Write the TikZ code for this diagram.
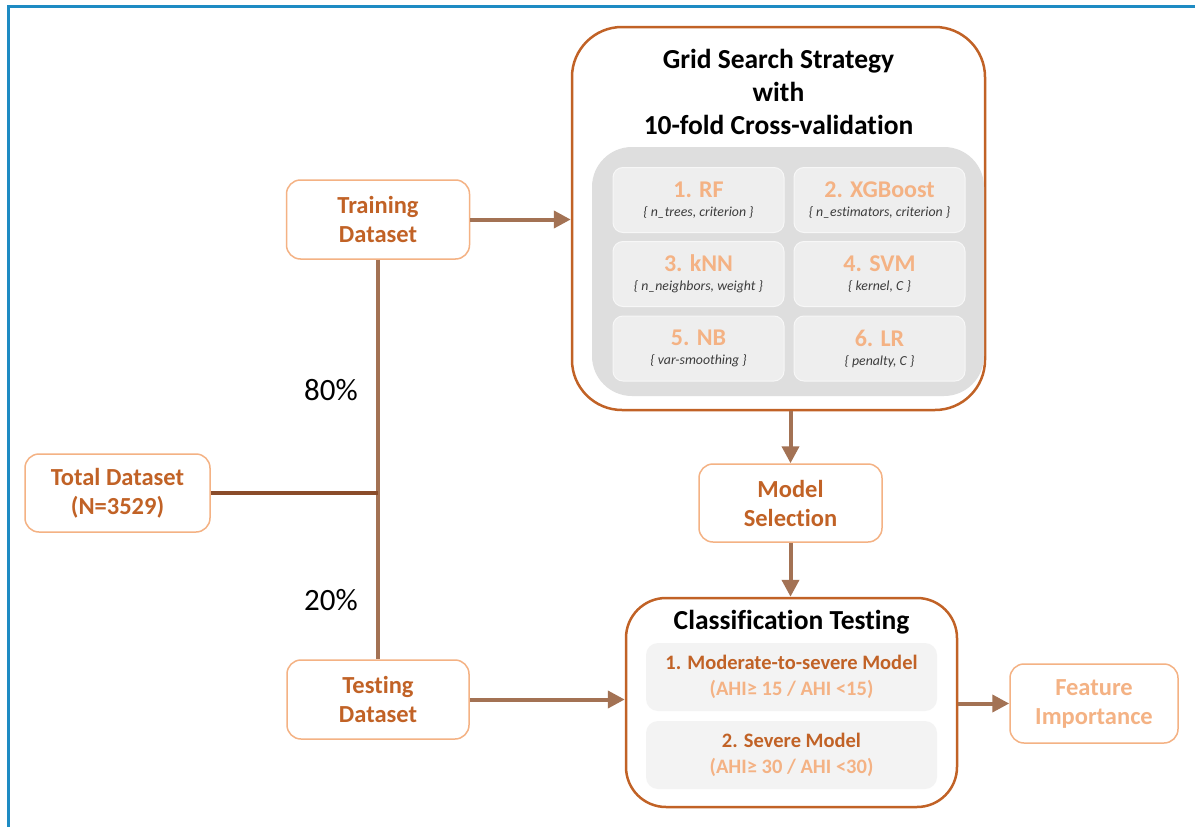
\documentclass[tikz,border=0pt]{standalone}
\usepackage{fontspec}
\setmainfont{Carlito}[Ligatures=NoCommon]
\usetikzlibrary{arrows.meta}
\definecolor{rust}{RGB}{193,98,38}
\definecolor{peach}{RGB}{244,178,132}
\definecolor{linkbrown}{RGB}{163,114,84}
\definecolor{stembrown}{RGB}{138,76,42}
\definecolor{frameblue}{RGB}{30,139,195}
\definecolor{panelgray}{RGB}{222,222,222}
\definecolor{cellgray}{RGB}{238,238,238}
\definecolor{rowgray}{RGB}{243,243,243}
\definecolor{subtext}{RGB}{60,60,60}

\newcommand{\celltext}[2]{{\fontsize{24}{24}\selectfont\bfseries #1}\\[7pt]{\fontsize{13.8}{15}\selectfont\itshape\color{subtext}\{ #2 \}}}

\begin{document}
\begin{tikzpicture}[x=1pt,y=-1pt,
  databox/.style={draw=peach, line width=1.5pt, rounded corners=14pt, fill=white,
    minimum width=183pt, minimum height=79pt, align=center, inner sep=0pt,
    font=\fontsize{24.5}{29}\selectfont\bfseries, text=rust},
  bigbox/.style={draw=rust, line width=2.5pt, fill=white, inner sep=0pt},
  cell/.style={draw=white!55!cellgray, line width=1pt, fill=cellgray, rounded corners=10pt,
    minimum width=171pt, minimum height=65pt, inner sep=0pt, align=center, text=peach},
  rowbox/.style={fill=rowgray, rounded corners=12pt, minimum width=291pt, minimum height=68pt,
    inner sep=0pt, align=center, font=\fontsize{20.5}{25}\selectfont\bfseries},
  title/.style={font=\fontsize{27.5}{33}\selectfont\bfseries, text=black, align=center, inner sep=0pt},
  pct/.style={font=\fontsize{31}{31}\selectfont, text=black, inner sep=0pt},
  link/.style={draw=linkbrown, line width=4pt, -{Triangle[length=17pt,width=17pt]}},
  stem/.style={draw=linkbrown, line width=3.5pt}
]
\useasboundingbox (0,0) rectangle (1195,827);
\fill[white] (0,0) rectangle (1195,827);

% frame edges
\draw[frameblue, line width=3pt] (8,827) -- (8,6) -- (1195,6);

% dataset boxes
\node[databox, minimum width=185pt, minimum height=78pt] (total) at (117.5,493) {Total Dataset\\(N=3529)};
\node[databox] (train) at (378,219.5) {Training\\Dataset};
\node[databox, minimum width=182pt] (test) at (378,699.5) {Testing\\Dataset};
\coordinate (split) at (378,493);

% grid search block
\node[bigbox, rounded corners=50pt, minimum width=413pt, minimum height=383pt] (grid) at (778.5,218.5) {};
\node[title] (gridtitle) at (778.5,92) {Grid Search Strategy\\with\\10-fold Cross-validation};
\node[fill=panelgray, rounded corners=40pt, minimum width=392pt, minimum height=249pt, inner sep=0pt] (panel) at (788,271.5) {};

\node[cell] (rf) at (698.5,200) {\celltext{1. RF}{n\_trees, criterion}};
\node[cell] (xgb) at (879.5,200) {\celltext{2. XGBoost}{n\_estimators, criterion}};
\node[cell] (knn) at (698.5,274) {\celltext{3. kNN}{n\_neighbors, weight}};
\node[cell] (svm) at (879.5,274) {\celltext{4. SVM}{kernel, C}};
\node[cell] (nb) at (698.5,348.5) {\celltext{5. NB}{var-smoothing}};
\node[cell] (lr) at (879.5,348.5) {\celltext{6. LR}{penalty, C}};

% model selection
\node[databox, minimum height=78pt] (model) at (790.5,503) {Model\\Selection};

% classification testing block
\node[bigbox, rounded corners=40pt, minimum width=331pt, minimum height=209pt] (cls) at (791.5,702.5) {};
\node[title] (clstitle) at (791.5,622) {Classification Testing};
\node[rowbox] (row1) at (791.5,677) {\textcolor{rust}{1. Moderate-to-severe Model}\\[1pt]\textcolor{peach}{(AHI≥ 15 / AHI <15)}};
\node[rowbox] (row2) at (791.5,755) {\textcolor{rust}{2. Severe Model}\\[1pt]\textcolor{peach}{(AHI≥ 30 / AHI <30)}};

% feature importance
\node[databox, text=peach, minimum width=168pt] (feat) at (1094,703.5) {Feature\\Importance};

% split of the data set
\draw[stem] (train.south) -- (test.north);
\draw[draw=stembrown, line width=4.5pt] (total.east) -- (split);
\node[pct] (p80) at (331,390) {80\%};
\node[pct] (p20) at (331,600) {20\%};

% flow arrows
\draw[link] (train.east) -- (grid.west |- train.east);
\draw[link] (model.north |- grid.south) -- (model.north);
\draw[link] (model.south) -- (model.south |- cls.north);
\draw[link] (test.east) -- (cls.west |- test.east);
\draw[link] (cls.east |- feat.west) -- (feat.west);
\end{tikzpicture}
\end{document}
